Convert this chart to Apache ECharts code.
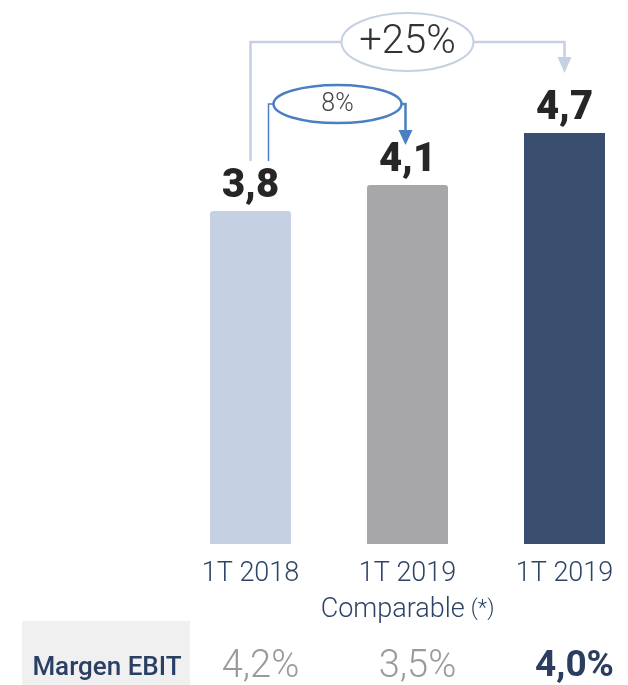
<!DOCTYPE html>
<html>
<head>
<meta charset="utf-8">
<script src="https://cdn.jsdelivr.net/npm/echarts@6/dist/echarts.min.js"></script>
<style>
  html, body { margin: 0; padding: 0; background: #fff; }
  #main { width: 628px; height: 685px; }
</style>
</head>
<body>
<div id="main"></div>
<script>
// datos
var categories = ['1T 2018', '1T 2019', '1T 2019'];
var subLabels = ['', 'Comparable', ''];
var ebit = [3.8, 4.1, 4.7];
var margins = [4.2, 3.5, 4.0];
var barColors = ['#c5d0e2', '#a7a7a9', '#394d6e'];
var growthTotal = '+25%';
var growthComparable = '8%';

var fmt = function (v, d) { return v.toFixed(d).replace('.', ','); };

var chart = echarts.init(document.getElementById('main'));

var option = {
  animation: false,
  grid: { left: 172, width: 471, top: 20, height: 521, outerBoundsMode: 'none' },
  xAxis: {
    type: 'category',
    data: categories,
    axisLine: { show: false },
    axisTick: { show: false },
    axisLabel: {
      margin: 15,
      formatter: function (val, i) {
        var s = '{a|' + val + '}';
        if (subLabels[i]) s += '\n{a|' + subLabels[i] + '}{s|(*)}';
        return s;
      },
      rich: {
        a: { fontFamily: 'Roboto', fontWeight: 300, fontSize: 27, color: '#2e4466', lineHeight: 36 },
        s: { fontFamily: 'Roboto', fontWeight: 300, fontSize: 22, color: '#2e4466', lineHeight: 36, padding: [0, 0, 2, 6] }
      }
    }
  },
  yAxis: {
    type: 'value',
    min: 0,
    max: 6,
    show: false,
    splitLine: { show: false }
  },
  series: [{
    type: 'bar',
    barWidth: 81,
    data: ebit.map(function (v, i) {
      return {
        value: v,
        itemStyle: {
          color: barColors[i],
          borderRadius: i < 2 ? [3, 3, 0, 0] : 0,
          shadowColor: barColors[i],
          shadowOffsetY: 3,
          shadowBlur: 0
        }
      };
    }),
    label: {
      show: true,
      position: 'top',
      distance: 4,
      fontFamily: 'Roboto',
      fontWeight: 900,
      fontSize: 40,
      color: '#262626',
      formatter: function (p) { return fmt(p.value, 1); }
    }
  }]
};
chart.setOption(option);

// anotaciones y fila de margen
var cx = categories.map(function (c, i) { return chart.convertToPixel({ xAxisIndex: 0 }, i); });
var yTop = function (i) { return chart.convertToPixel({ yAxisIndex: 0 }, ebit[i]); };

var light = '#c5d0e2';
var mid = '#4a7fc1';
var lineTop = 42, lineStart = yTop(0) - 50;
var e1 = { x: cx[1], y: lineTop, rx: 66, ry: 29 };
var e2 = { x: cx[0] + 87, y: 104, rx: 64, ry: 19 };

var graphics = [
  { type: 'polyline', shape: { points: [[cx[0], lineStart], [cx[0], lineTop], [e1.x - e1.rx, lineTop]] },
    style: { stroke: light, lineWidth: 2.5, fill: null } },
  { type: 'polyline', shape: { points: [[e1.x + e1.rx, lineTop], [cx[2], lineTop], [cx[2], 58]] },
    style: { stroke: light, lineWidth: 2.5, fill: null } },
  { type: 'polygon', shape: { points: [[cx[2] - 7, 57], [cx[2] + 7, 57], [cx[2], yTop(2) - 60]] },
    style: { fill: light } },
  { type: 'ellipse', shape: { cx: e1.x, cy: e1.y, rx: e1.rx, ry: e1.ry },
    style: { stroke: light, lineWidth: 2, fill: '#fff' } },
  { type: 'text', x: e1.x, y: e1.y + 1, style: { text: growthTotal, fontFamily: 'Roboto', fontWeight: 300, fontSize: 40,
    fill: '#333', align: 'center', verticalAlign: 'middle' } },

  { type: 'polyline', shape: { points: [[cx[0] + 18, lineStart], [cx[0] + 18, e2.y], [e2.x - e2.rx, e2.y]] },
    style: { stroke: mid, lineWidth: 1.5, fill: null } },
  { type: 'polyline', shape: { points: [[e2.x + e2.rx, e2.y], [cx[1] - 2, e2.y], [cx[1] - 2, 131]] },
    style: { stroke: mid, lineWidth: 2.5, fill: null } },
  { type: 'polygon', shape: { points: [[cx[1] - 9, 130], [cx[1] + 5, 130], [cx[1] - 2, yTop(1) - 40]] },
    style: { fill: mid } },
  { type: 'ellipse', shape: { cx: e2.x, cy: e2.y, rx: e2.rx, ry: e2.ry },
    style: { stroke: mid, lineWidth: 2.5, fill: '#fff' } },
  { type: 'text', x: e2.x, y: e2.y + 1, style: { text: growthComparable, fontFamily: 'Roboto', fontWeight: 300, fontSize: 25,
    fill: '#444', align: 'center', verticalAlign: 'middle' } },

  { type: 'rect', shape: { x: 22, y: 621, width: 168, height: 64 }, style: { fill: '#f0f0f0' } },
  { type: 'text', x: 107, y: 668, style: { text: 'Margen EBIT', fontFamily: 'Roboto', fontWeight: 500, fontSize: 26,
    fill: '#2a3f63', align: 'center', verticalAlign: 'middle' } }
];

margins.forEach(function (m, i) {
  var last = i === margins.length - 1;
  graphics.push({
    type: 'text', x: cx[i] + 10, y: 667,
    style: {
      text: fmt(m, 1) + '%', fontFamily: 'Roboto', fontWeight: last ? 'bold' : 300, fontSize: last ? 37 : 38,
      fill: last ? '#2c3e5f' : '#9a9a9a', align: 'center', verticalAlign: 'middle'
    }
  });
});

chart.setOption({ graphic: graphics });
</script>
</body>
</html>
